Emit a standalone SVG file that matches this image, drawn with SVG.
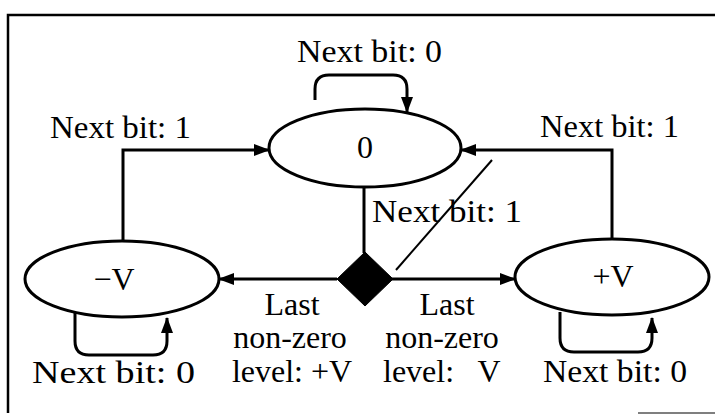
<svg xmlns="http://www.w3.org/2000/svg" width="715" height="415" viewBox="0 0 715 415">
<style>
text{font-family:"Liberation Serif","Times New Roman",serif;fill:#000;font-size:32px;}
.node{fill:#fff;stroke:#000;stroke-width:3;}
.conn{fill:none;stroke:#000;stroke-width:3;}
.c{text-anchor:middle;}
</style>
<defs>
<marker id="arr" markerWidth="16" markerHeight="12" refX="15" refY="6" orient="auto" markerUnits="userSpaceOnUse">
<path d="M0,0 L16,6 L0,12 Z" fill="#000"/>
</marker>
</defs>
<rect width="715" height="415" fill="#fff"/>
<g id="frame" fill="none" stroke="#000">
<path d="M8,413 V15 H715" stroke-width="2.5"/>
<path d="M638,413 H715" stroke-width="1.5" stroke="#555"/>
</g>
<g id="connectors">
<path class="conn" d="M123,241 V150 H269" marker-end="url(#arr)"/>
<path class="conn" d="M612,239 V150 H461" marker-end="url(#arr)"/>
<path class="conn" d="M364,187 V253"/>
<path class="conn" d="M337,279 H219" marker-end="url(#arr)"/>
<path class="conn" d="M392,279 H515" marker-end="url(#arr)"/>
<path class="conn" d="M315,100 V89 Q315,75 329,75 H393 Q407,75 407,89 V112" marker-end="url(#arr)"/>
<path class="conn" d="M75,313 V341 Q75,355 89,355 H153 Q167,355 167,341 V318" marker-end="url(#arr)"/>
<path class="conn" d="M560,312 V338 Q560,352 574,352 H638 Q652,352 652,338 V318" marker-end="url(#arr)"/>
<path d="M396,270 L492,160" fill="none" stroke="#000" stroke-width="2"/>
</g>
<g id="node-zero">
<ellipse class="node" cx="365" cy="148" rx="96" ry="39"/>
<text class="c" x="365" y="158" font-size="30">0</text>
</g>
<g id="node-minusV">
<ellipse class="node" cx="122" cy="279" rx="97" ry="38"/>
<text class="c" x="114" y="290">−V</text>
</g>
<g id="node-plusV">
<ellipse class="node" cx="612" cy="277" rx="97" ry="38"/>
<text class="c" x="613" y="287">+V</text>
</g>
<g id="node-decision">
<path d="M365,252 L393,279 L365,306 L337,279 Z" fill="#000" stroke="#000" stroke-width="1"/>
</g>
<g id="labels">
<text x="297" y="62" textLength="145" lengthAdjust="spacingAndGlyphs">Next bit: 0</text>
<text x="50" y="138" textLength="141" lengthAdjust="spacingAndGlyphs">Next bit: 1</text>
<text x="540" y="137" textLength="139" lengthAdjust="spacingAndGlyphs">Next bit: 1</text>
<text x="372" y="222" textLength="150" lengthAdjust="spacingAndGlyphs">Next bit: 1</text>
<text x="32" y="383" textLength="163" lengthAdjust="spacingAndGlyphs">Next bit: 0</text>
<text x="543" y="382" textLength="144" lengthAdjust="spacingAndGlyphs">Next bit: 0</text>
<text class="c" x="292" y="315">Last</text>
<text class="c" x="290" y="348">non-zero</text>
<text class="c" x="292" y="382">level: +V</text>
<text class="c" x="447" y="315">Last</text>
<text class="c" x="442" y="348">non-zero</text>
<text x="383" y="382" xml:space="preserve">level:   V</text>
</g>
</svg>
